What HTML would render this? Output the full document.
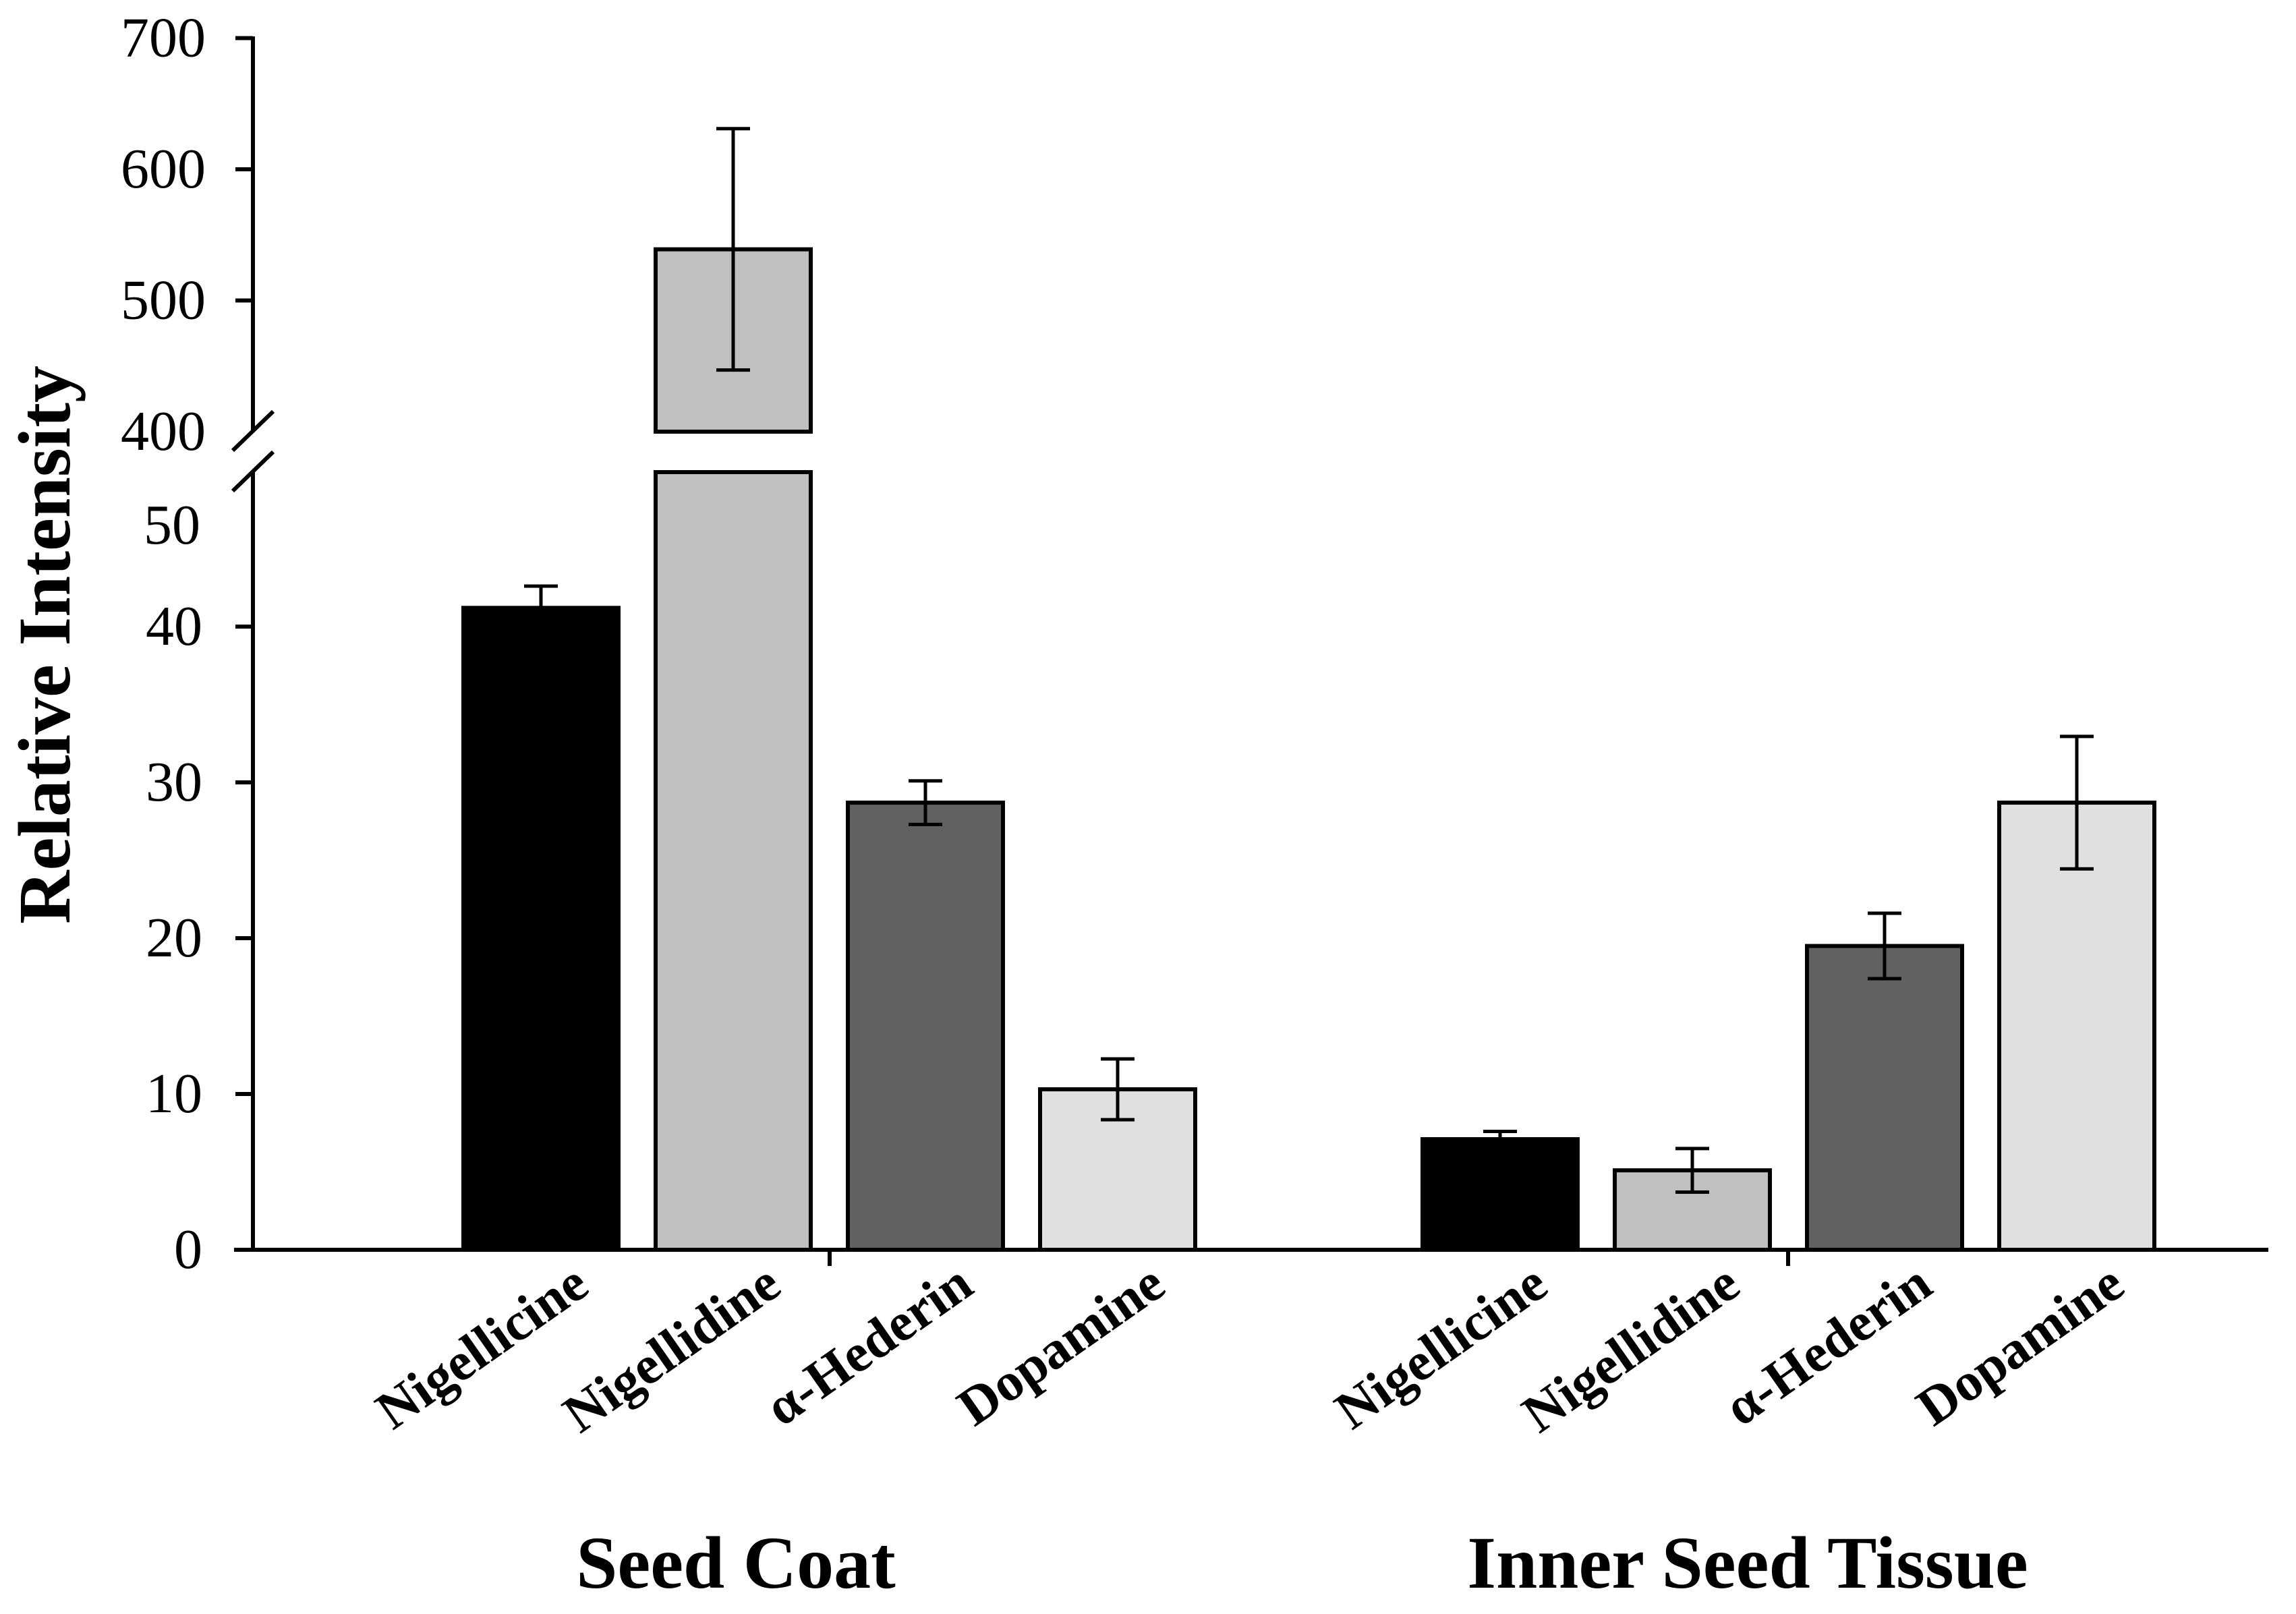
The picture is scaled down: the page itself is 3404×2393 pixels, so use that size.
<!DOCTYPE html>
<html><head><meta charset="utf-8"><style>
html,body{margin:0;padding:0;background:#fff;}
svg{display:block;font-family:"Liberation Serif","Times New Roman",serif;}
</style></head><body>
<svg id="chart" width="3404" height="2393" viewBox="0 0 3404 2393" xmlns="http://www.w3.org/2000/svg"></svg>
<script>
const groups = ["Seed Coat", "Inner Seed Tissue"];
const compounds = ["Nigellicine", "Nigellidine", "\u03b1-Hederin", "Dopamine"];
const seedCoatValues = [41.2, 539, 28.7, 10.3];
const seedCoatErrors = [1.4, 92, 1.4, 1.95];
const innerValues = [7.1, 5.1, 19.5, 28.7];
const innerErrors = [0.5, 1.4, 2.1, 4.25];
const lowerTicks = [0, 10, 20, 30, 40];
const upperTicks = [400, 500, 600, 700];
const colors = ["#000000", "#c0c0c0", "#616161", "#e0e0e0"];

const svg = document.getElementById('chart');
const NS = 'http://www.w3.org/2000/svg';
function mk(tag, attrs, parent) {
  const e = document.createElementNS(NS, tag);
  for (const k in attrs) e.setAttribute(k, attrs[k]);
  (parent || svg).appendChild(e);
  return e;
}
// axis functions
const axisX = 375, lowBase = 1853, lowPer = 23.1, lowTop = 700;
const upBase = 640, upPer = 1.945;
function yLow(v) { return Math.max(lowTop, lowBase - v * lowPer); }
function yUp(v) { return upBase - (v - 400) * upPer; }
const groupStart = [687, 2109], step = 285, barW = 230;
function xBar(g, i) { return groupStart[g] + i * step; }

// bars
const allVals = [seedCoatValues, innerValues];
const allErrs = [seedCoatErrors, innerErrors];
for (let g = 0; g < 2; g++) {
  for (let i = 0; i < 4; i++) {
    const v = allVals[g][i], er = allErrs[g][i];
    const x = xBar(g, i);
    const yt = yLow(v);
    const r = mk('rect', {x: x, y: yt, width: barW, height: lowBase - yt, fill: colors[i], stroke: '#000', 'stroke-width': 6});
    
    
    const cx = x + barW / 2;
    let ye1, ye2, ymid;
    if (v > 55) {
      const yu = yUp(v);
      const r2 = mk('rect', {x: x, y: yu, width: barW, height: upBase - yu, fill: colors[i], stroke: '#000', 'stroke-width': 6});
      
      
      ye1 = yUp(v + er); ye2 = yUp(v - er);
    } else {
      ye1 = yLow(v + er); ye2 = yLow(v - er);
    }
    const eb = mk('g', {stroke: '#000', 'stroke-width': 5});
    
    
    mk('line', {x1: cx, y1: ye1, x2: cx, y2: ye2}, eb);
    mk('line', {x1: cx - 25, y1: ye1, x2: cx + 25, y2: ye1}, eb);
    mk('line', {x1: cx - 25, y1: ye2, x2: cx + 25, y2: ye2}, eb);
    const t = mk('text', {x: cx + 75, y: 1915, 'text-anchor': 'end', 'font-size': 80, 'font-weight': 'bold',
      transform: 'rotate(-35 ' + (cx + 75) + ' 1915)'});
    t.textContent = compounds[i];
    
    
  }
  const gx = g === 0 ? 1091 : 2591;
  const gt = mk('text', {x: gx, y: 2354, 'text-anchor': 'middle', 'font-size': 110, 'font-weight': 'bold'});
  gt.textContent = groups[g];
  
  
}
// axes
const ax = mk('g', {stroke: '#000', 'stroke-width': 6, fill: 'none'});


mk('line', {x1: axisX, y1: 54, x2: axisX, y2: 640}, ax);
mk('line', {x1: axisX, y1: 700, x2: axisX, y2: lowBase + 3}, ax);
mk('line', {x1: 347, y1: lowBase, x2: 3363, y2: lowBase}, ax);
mk('line', {x1: 345, y1: 668, x2: 405, y2: 610}, ax);
mk('line', {x1: 345, y1: 728, x2: 405, y2: 670}, ax);
mk('line', {x1: 1230, y1: lowBase, x2: 1230, y2: 1877}, ax);
mk('line', {x1: 2651, y1: lowBase, x2: 2651, y2: 1877}, ax);
for (const v of lowerTicks) {
  const y = yLow(v);
  mk('line', {x1: 349, y1: y, x2: axisX, y2: y}, ax);
  const t = mk('text', {x: 300, y: y + 27, 'text-anchor': 'end', 'font-size': 84});
  t.textContent = v;
  
  
}
for (const v of upperTicks) {
  const y = yUp(v);
  if (v > 400) mk('line', {x1: 349, y1: y, x2: axisX, y2: y}, ax);
  const t = mk('text', {x: 305, y: y + 27, 'text-anchor': 'end', 'font-size': 84});
  t.textContent = v;
  
  
}
const t50 = mk('text', {x: 297, y: 806, 'text-anchor': 'end', 'font-size': 84});
t50.textContent = '50';


const yt = mk('text', {x: 103, y: 956, 'text-anchor': 'middle', 'font-size': 110, 'font-weight': 'bold', transform: 'rotate(-90 103 956)'});
yt.textContent = 'Relative Intensity';


</script>
</body></html>
